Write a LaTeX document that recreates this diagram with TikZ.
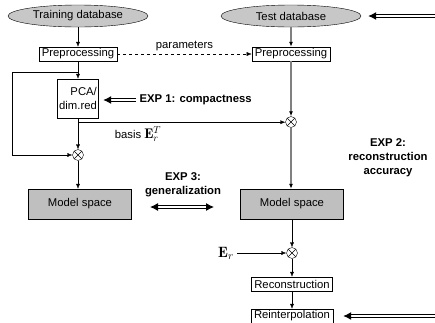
\documentclass[tikz,border=0pt]{standalone}
\usepackage{amsmath}
\usepackage{fontspec}
\setsansfont{Liberation Sans}
\usetikzlibrary{shapes, arrows.meta, positioning, calc}

\begin{document}
\begin{tikzpicture}[x=1pt, y=-1pt,
    every node/.style={font=\sffamily\fontsize{11.3}{14}\selectfont},
    db/.style={ellipse, draw, fill=black!22, minimum width=140pt, minimum height=22pt, inner sep=0pt},
    box/.style={draw, inner xsep=3pt, inner ysep=1.5pt, minimum height=14pt},
    model/.style={draw, fill=black!25, minimum width=103pt, minimum height=30pt},
    mult/.style={circle, draw, minimum size=11pt, inner sep=0pt,
        path picture={\draw (path picture bounding box.north west) -- (path picture bounding box.south east)
                            (path picture bounding box.north east) -- (path picture bounding box.south west);}},
    exptext/.style={font=\sffamily\bfseries\fontsize{11.3}{14}\selectfont, align=center},
    arr/.style={-{Latex[length=5pt,width=4pt]}},
    grayarr/.style={draw=black!50, line width=1.2pt, -{Latex[length=5pt,width=4pt,color=black]}},
    dbl/.style={draw=black, double=white, double distance=1.4pt, line width=1pt, -{Latex[length=8pt,width=8pt]}},
    dblboth/.style={draw=black, double=white, double distance=1.4pt, line width=1pt, {Latex[length=8pt,width=8pt]}-{Latex[length=8pt,width=8pt]}}]
    \useasboundingbox (0,0) rectangle (435,322);

    % databases
    \node[db] (trainDB) at (78,16) {Training database};
    \node[db] (testDB) at (291,16) {Test database};

    % training side
    \node[box] (prepL) at (78,54) {Preprocessing};
    \node[box, align=right, minimum width=41pt, minimum height=39pt, inner xsep=1.5pt] (pca) at (78,98.5) {PCA/\\dim.red};
    \node[mult] (mulL) at (78,155) {};
    \node[model] (msL) at (80,204) {Model space};

    % test side
    \node[box] (prepR) at (291,54) {Preprocessing};
    \node[mult] (mulR) at (291,122) {};
    \node[model] (msR) at (292,204) {Model space};
    \node[mult] (mulB) at (292,253) {};
    \node (er) at (226,253) {\fontsize{15}{16}\selectfont$\mathbf{E}_r$};
    \node[box] (recon) at (292,284) {Reconstruction};
    \node[box] (reint) at (292,316) {Reinterpolation};

    % labels
    \node (basis) at (138,134) {basis {\fontsize{14}{15}\selectfont$\mathbf{E}_r^T$}};
    \node[exptext, anchor=west] (exp1) at (136,100) {EXP 1: compactness};
    \node[exptext] (exp2) at (388,158) {EXP 2:\\reconstruction\\accuracy};
    \node[exptext] (exp3) at (183,185) {EXP 3:\\generalization};

    % connectors, training
    \draw[arr] (trainDB) -- (prepL);
    \draw[arr] (prepL.south) -- (prepL.south |- pca.north);
    \coordinate (splitL) at ($(prepL.south)+(0,11)$);
    \draw[arr] (splitL) -- ++(-66,0) |- (mulL);
    \draw[arr] (pca) -- (mulL);
    \coordinate (splitB) at ($(pca.south)+(0,4)$);
    \draw[arr] (splitB) -- (splitB -| mulR.west);
    \draw[arr] (mulL) -- (mulL |- msL.north);
    \draw[arr, dashed] (prepL) -- node[above] {parameters} (prepR);

    % connectors, test
    \draw[grayarr] (testDB) -- (prepR);
    \draw[grayarr] (prepR) -- (mulR);
    \draw[grayarr] (mulR) -- (mulR |- msR.north);
    \draw[arr] (msR.south -| mulB) -- (mulB);
    \draw[arr] (er) -- (mulB);
    \draw[arr] (mulB) -- (mulB |- recon.north);
    \draw[arr] (recon) -- (reint);

    % experiment arrows
    \coordinate (inTest) at (437,16);
    \coordinate (inReint) at (437,316);
    \coordinate (genL) at (150,207);
    \coordinate (genR) at (214,207);
    \draw[dbl, shorten >=7pt] (inTest) -- (testDB.east);
    \draw[dbl, shorten >=10pt] (inReint) -- (reint.east);
    \draw[dbl, shorten >=4.5pt] (exp1.west) -- (exp1.west -| pca.east);
    \draw[dblboth] (genL) -- (genR);
\end{tikzpicture}
\end{document}
